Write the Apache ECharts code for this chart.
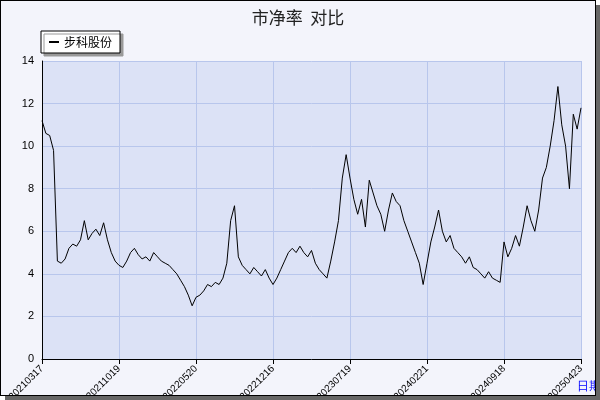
<!DOCTYPE html><html><head><meta charset="utf-8"><script src="https://cdn.jsdelivr.net/npm/echarts@6/dist/echarts.min.js"></script>
<style>body{margin:0;background:#fff}#c{position:absolute;left:0;top:0;width:594px;height:394px;border:1px solid #000;background:#f3f4fb;box-shadow:5px 5px 0 #666}</style></head><body><div id="c"></div><script>
const tickLabels=['20210317','20211019','20220520','20221216','20230719','20240221','20240918','20250423'];
const values=[11.2,10.6,10.5,9.8,4.6,4.5,4.7,5.2,5.4,5.3,5.6,6.5,5.6,5.9,6.1,5.8,6.4,5.6,5.0,4.6,
4.4,4.3,4.6,5.0,5.2,4.9,4.7,4.8,4.6,5.0,4.8,4.6,4.5,4.4,4.2,4.0,3.7,3.4,3.0,2.5,
2.9,3.0,3.2,3.5,3.4,3.6,3.5,3.8,4.5,6.5,7.2,4.8,4.4,4.2,4.0,4.3,4.1,3.9,4.2,3.8,
3.5,3.8,4.2,4.6,5.0,5.2,5.0,5.3,5.0,4.8,5.1,4.5,4.2,4.0,3.8,4.6,5.5,6.5,8.5,9.6,
8.5,7.5,6.8,7.5,6.2,8.4,7.8,7.2,6.8,6.0,7.0,7.8,7.4,7.2,6.5,6.0,5.5,5.0,4.5,3.5,
4.5,5.5,6.2,7.0,6.0,5.5,5.8,5.2,5.0,4.8,4.5,4.8,4.3,4.2,4.0,3.8,4.1,3.8,3.7,3.6,
5.5,4.8,5.2,5.8,5.3,6.2,7.2,6.5,6.0,7.0,8.5,9.0,10.0,11.2,12.8,11.0,10.0,8.0,11.5,10.8,11.8];
const cats=values.map((v,i)=>i);
const ch=echarts.init(document.getElementById('c'));
ch.setOption({animation:false,
title:{text:'市净率  对比',left:'center',top:3,textStyle:{fontSize:17,fontWeight:'normal',color:'#222',fontFamily:'Noto Sans CJK SC'}},
legend:{left:40,top:30,itemWidth:10,itemHeight:2,icon:'rect',backgroundColor:'#fff',borderColor:'#000',borderWidth:1,borderRadius:0,padding:[5,8],shadowColor:'#999',shadowOffsetX:3,shadowOffsetY:3,shadowBlur:0,textStyle:{fontSize:12,color:'#000',fontFamily:'Noto Sans CJK SC'},data:['步科股份']},
grid:{left:41,right:14,top:60,bottom:36,outerBoundsMode:'none',containLabel:false,show:true,backgroundColor:'#dce2f6',borderWidth:0},
xAxis:{type:'category',data:cats,boundaryGap:false,name:'日期',nameLocation:'end',nameGap:-25,nameTextStyle:{color:'#0000ff',fontSize:12,verticalAlign:'top',padding:[22,0,0,0]},
axisLine:{lineStyle:{color:'#000'}},axisTick:{interval:i=>i%20===0,length:5,lineStyle:{color:'#000'}},
axisLabel:{interval:i=>i%20===0,rotate:45,fontSize:10,color:'#000',formatter:v=>tickLabels[v/20]||''},
splitLine:{show:true,interval:i=>i%20===0,lineStyle:{color:'#b8c6ec'}}},
yAxis:{type:'value',min:0,max:14,interval:2,axisLine:{show:true,lineStyle:{color:'#000'}},axisTick:{show:false},axisLabel:{fontSize:11,color:'#000'},splitLine:{lineStyle:{color:'#b8c6ec'}}},
series:[{name:'步科股份',type:'line',data:values,symbol:'none',lineStyle:{color:'#000',width:1},itemStyle:{color:'#000'}}]});
</script></body></html>
